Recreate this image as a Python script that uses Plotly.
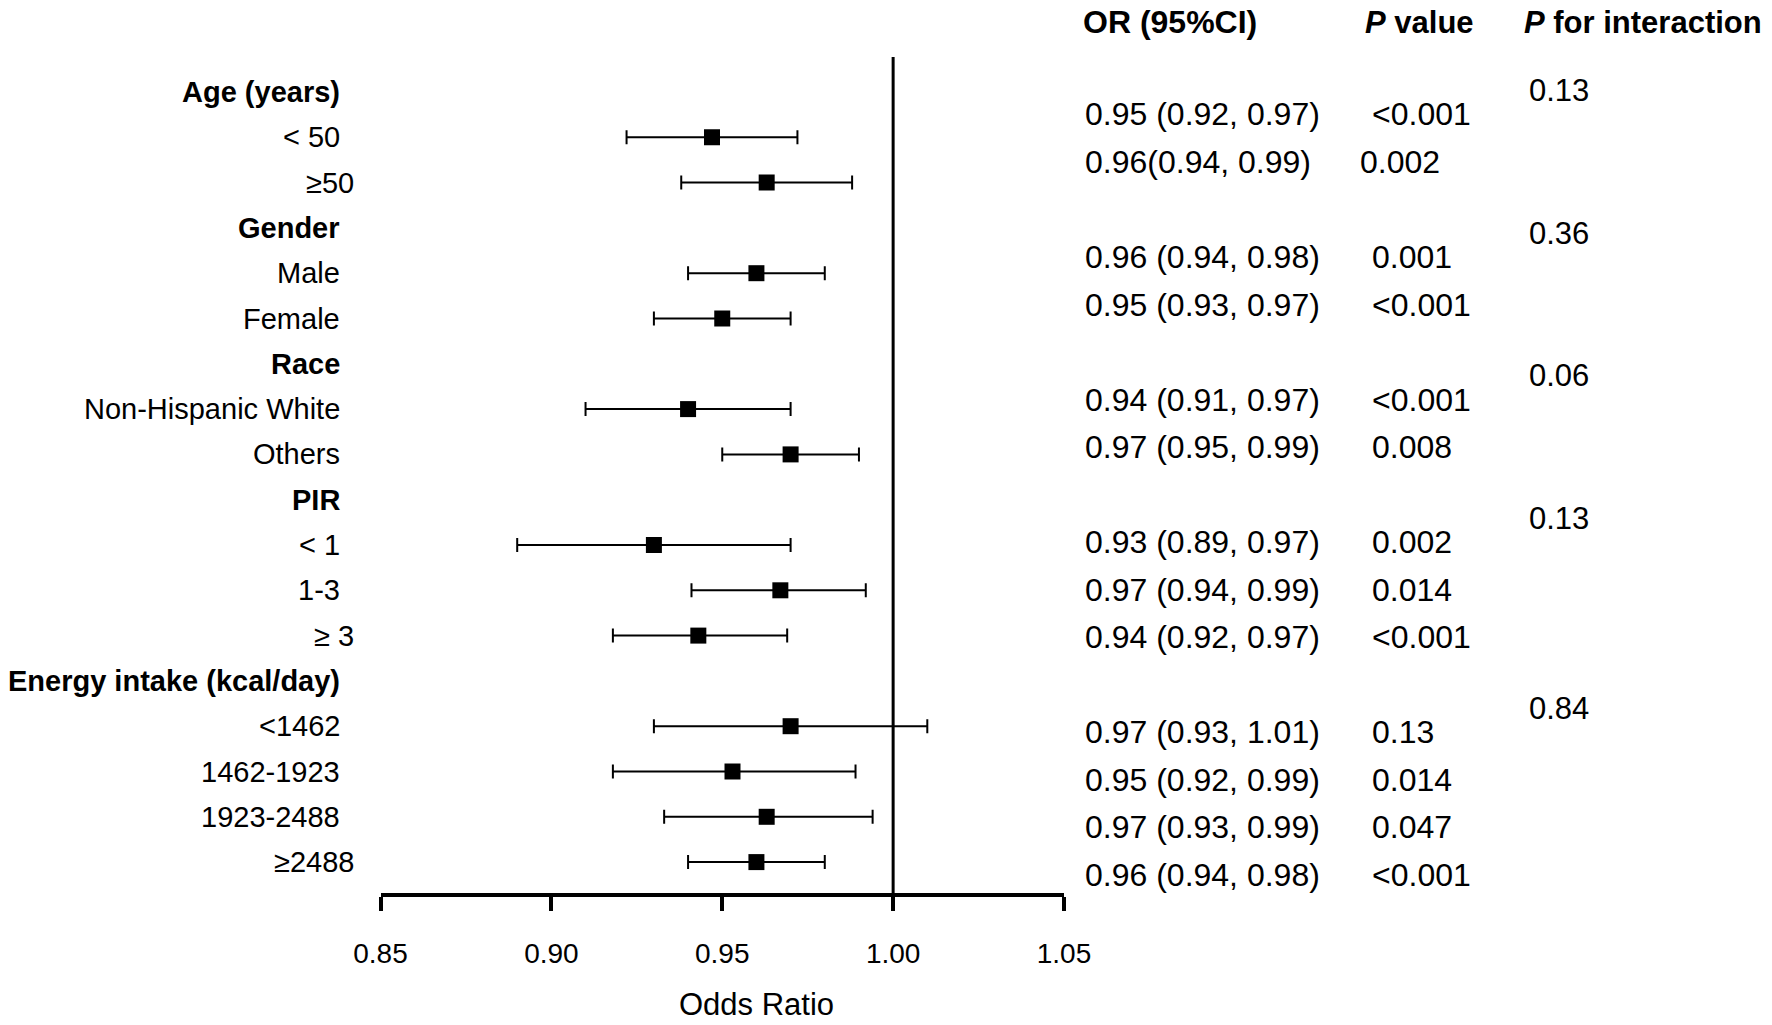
import plotly.graph_objects as go

W, H = 1772, 1025

# rows of the forest plot (top to bottom)
labels = ["Age (years)", "< 50", "\u226550", "Gender", "Male", "Female",
          "Race", "Non-Hispanic White", "Others", "PIR", "< 1", "1-3", "\u2265 3",
          "Energy intake (kcal/day)", "<1462", "1462-1923", "1923-2488", "\u22652488"]
is_header = [True, False, False, True, False, False, True, False, False,
             True, False, False, False, True, False, False, False, False]

or_est = [None, 0.947, 0.963, None, 0.960, 0.950, None, 0.940, 0.970,
          None, 0.930, 0.967, 0.943, None, 0.970, 0.953, 0.963, 0.960]
ci_low = [None, 0.922, 0.938, None, 0.940, 0.930, None, 0.910, 0.950,
          None, 0.890, 0.941, 0.918, None, 0.930, 0.918, 0.933, 0.940]
ci_high = [None, 0.972, 0.988, None, 0.980, 0.970, None, 0.970, 0.990,
           None, 0.970, 0.992, 0.969, None, 1.010, 0.989, 0.994, 0.980]

or_text = ["", "0.95 (0.92, 0.97)", "0.96(0.94, 0.99)", "", "0.96 (0.94, 0.98)",
           "0.95 (0.93, 0.97)", "", "0.94 (0.91, 0.97)", "0.97 (0.95, 0.99)", "",
           "0.93 (0.89, 0.97)", "0.97 (0.94, 0.99)", "0.94 (0.92, 0.97)", "",
           "0.97 (0.93, 1.01)", "0.95 (0.92, 0.99)", "0.97 (0.93, 0.99)", "0.96 (0.94, 0.98)"]
p_text = ["", "<0.001", "0.002", "", "0.001", "<0.001", "", "<0.001", "0.008", "",
          "0.002", "0.014", "<0.001", "", "0.13", "0.014", "0.047", "<0.001"]
p_inter = ["0.13", "", "", "0.36", "", "", "0.06", "", "", "0.13", "", "", "",
           "0.84", "", "", "", ""]

x_ticks = [0.85, 0.90, 0.95, 1.00, 1.05]

FONT = "Liberation Sans, Arial, sans-serif"

# pixel layout (figure coordinates)
ROW0, ROW_STEP = 92, 45.3          # forest rows
TAB0, TAB_STEP = 114.5, 47.5       # table rows
PLOT_TOP, AXIS_Y = 57, 893
X_LEFT, X_RIGHT = 380.5, 1064

rows = list(range(len(labels)))
pts = [i for i in rows if or_est[i] is not None]

fig = go.Figure()
fig.add_trace(go.Scatter(
    x=[or_est[i] for i in pts],
    y=pts,
    mode="markers",
    marker=dict(symbol="square", size=16, color="black"),
    error_x=dict(type="data", symmetric=False,
                 array=[ci_high[i] - or_est[i] for i in pts],
                 arrayminus=[or_est[i] - ci_low[i] for i in pts],
                 color="black", thickness=2, width=7),
    showlegend=False,
    hoverinfo="skip",
))

# reference line at OR = 1
fig.add_shape(type="line", xref="x", yref="y domain", x0=1.0, x1=1.0, y0=0, y1=1,
              line=dict(color="black", width=3))


def py(px):
    return 1 - px / H


def ann(x, y, text, size, anchor="left", yref="paper"):
    return dict(x=x / W, y=y, xref="paper", yref=yref, text=text,
                xanchor=anchor, yanchor="middle", showarrow=False,
                font=dict(size=size, color="black", family=FONT))


annotations = []
# row labels
for i, lab in enumerate(labels):
    text = f"<b>{lab}</b>" if is_header[i] else lab
    xr = 356 if lab.startswith("\u2265") else 342
    annotations.append(ann(xr, i, text, 29, anchor="right", yref="y"))

# table columns
for i in rows:
    ty = TAB0 + TAB_STEP * (i - 1)
    if or_text[i]:
        annotations.append(ann(1083, py(ty), or_text[i], 32))
    if p_text[i]:
        xl = 1358 if i == 2 else 1370
        annotations.append(ann(xl, py(ty), p_text[i], 32))
    if p_inter[i]:
        annotations.append(ann(1527, py(ty + TAB_STEP / 2), p_inter[i], 31))

# column headers
annotations.append(ann(1081, py(22), "<b>OR (95%CI)</b>", 32))
annotations.append(ann(1363, py(22), "<b><i>P</i> value</b>", 31))
annotations.append(ann(1522, py(22), "<b><i>P</i> for interaction</b>", 31))

# axis title
annotations.append(ann(756, py(1004), "Odds Ratio", 31, anchor="center"))

fig.update_layout(
    width=W, height=H,
    margin=dict(l=0, r=0, t=0, b=0),
    paper_bgcolor="white", plot_bgcolor="white",
    annotations=annotations,
    font=dict(family=FONT, size=28, color="black"),
    xaxis=dict(domain=[X_LEFT / W, X_RIGHT / W], range=[0.85, 1.05],
               tickvals=x_ticks, tickformat=".2f",
               showline=True, linecolor="black", linewidth=4,
               ticks="outside", ticklen=14, tickwidth=3.5, tickcolor="black",
               ticklabelstandoff=18,
               showgrid=False, zeroline=False, automargin=False,
               tickfont=dict(size=28, color="black", family=FONT)),
    yaxis=dict(domain=[py(AXIS_Y), py(PLOT_TOP)],
               range=[(AXIS_Y - ROW0) / ROW_STEP, (PLOT_TOP - ROW0) / ROW_STEP],
               showticklabels=False, showgrid=False, zeroline=False,
               showline=False, automargin=False),
)

fig.write_html("out.html",
               config={"displayModeBar": False},
               post_script="document.body.style.margin='0';"
                           "document.body.style.overflow='hidden';")
